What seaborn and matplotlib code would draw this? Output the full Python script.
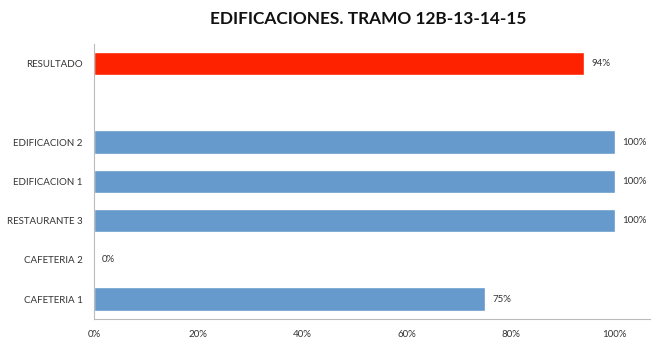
import pandas as pd
import matplotlib.pyplot as plt
import seaborn as sns

# Chart data (top to bottom)
categories = ['RESULTADO', ' ', 'EDIFICACION 2', 'EDIFICACION 1', 'RESTAURANTE 3', 'CAFETERIA 2', 'CAFETERIA 1']
values = [0.94, None, 1.00, 1.00, 1.00, 0.00, 0.75]
labels = ['94%', '', '100%', '100%', '100%', '0%', '75%']
x_ticks = [0, 0.2, 0.4, 0.6, 0.8, 1.0]
x_tick_labels = ['0%', '20%', '40%', '60%', '80%', '100%']

df = pd.DataFrame({'categoria': categories, 'valor': values, 'etiqueta': labels})
plot_df = df.dropna(subset=['valor'])

palette = {c: '#6699CC' for c in categories}
palette['RESULTADO'] = '#FF2200'

sns.set_style('white')
plt.rcParams['font.family'] = ['Lato', 'DejaVu Sans']

fig = plt.figure(figsize=(6.51, 3.40), dpi=100)
ax = fig.add_axes([0.1444, 0.062, 0.856, 0.809])

sns.barplot(data=plot_df, x='valor', y='categoria', hue='categoria', order=categories,
            palette=palette, orient='h', width=0.6, legend=False, ax=ax, saturation=1)

# Data labels to the right of each bar
for i, row in df.iterrows():
    if pd.isna(row['valor']):
        continue
    ax.text(row['valor'] + 0.015, i, row['etiqueta'], va='center', ha='left',
            fontsize=7, color='#333333')

ax.set_xlim(0, 1.07)
ax.set_ylim(len(categories) - 0.5, -0.5)
ax.set_xticks(x_ticks)
ax.set_xticklabels(x_tick_labels)
ax.tick_params(axis='both', labelsize=7, colors='#333333', length=0, pad=8)
ax.set_xlabel('')
ax.set_ylabel('')

for side in ['top', 'right']:
    ax.spines[side].set_visible(False)
for side in ['left', 'bottom']:
    ax.spines[side].set_color('#BBBBBB')
    ax.spines[side].set_linewidth(0.8)

fig.text(0.566, 0.945, 'EDIFICACIONES. TRAMO 12B-13-14-15', ha='center', va='center',
         fontsize=12.4, fontweight='bold', color='#111111')

fig.savefig('out.png', dpi=100)
